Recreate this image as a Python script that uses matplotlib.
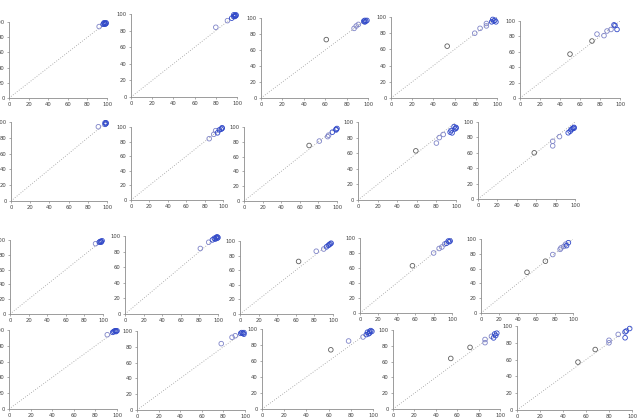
import matplotlib

matplotlib.use("Agg")
import matplotlib.pyplot as plt
import numpy as np

# one (x, y) list per panel, rows left to right
p01_x = [92, 96, 97, 98, 99, 98, 97, 99]
p01_y = [94, 97, 98, 98, 99, 97, 99, 98]
p02_x = [80, 91, 95, 97, 98, 99, 98, 97, 99]
p02_y = [84, 92, 95, 97, 98, 99, 97, 99, 98]
p03_x = [61, 87, 89, 91, 96, 97, 98, 99, 97]
p03_y = [73, 87, 90, 92, 96, 97, 96, 97, 95]
p04_x = [53, 79, 84, 90, 90, 95, 96, 97, 98, 99]
p04_y = [64, 80, 86, 89, 92, 94, 97, 95, 96, 94]
p05_x = [50, 72, 77, 84, 87, 91, 94, 95, 97]
p05_y = [57, 74, 83, 81, 87, 89, 95, 94, 89]
p06_x = [91, 98, 99, 99, 98]
p06_y = [94, 97, 98, 99, 99]
p07_x = [85, 90, 92, 94, 96, 98, 99, 99]
p07_y = [84, 90, 95, 92, 96, 97, 98, 99]
p08_x = [70, 81, 90, 91, 95, 99, 100, 99]
p08_y = [75, 81, 87, 89, 93, 97, 98, 96]
p09_x = [59, 80, 83, 87, 94, 95, 96, 99, 100, 98, 100]
p09_y = [63, 73, 80, 84, 87, 89, 86, 91, 93, 94, 92]
p10_x = [58, 77, 77, 84, 93, 95, 96, 97, 98, 99, 99]
p10_y = [60, 75, 69, 81, 86, 88, 90, 91, 92, 93, 92]
p11_x = [92, 96, 97, 98, 99, 98]
p11_y = [95, 97, 98, 98, 99, 97]
p12_x = [81, 90, 94, 96, 97, 98, 99, 99, 100]
p12_y = [84, 92, 95, 97, 96, 98, 99, 97, 98]
p13_x = [63, 82, 90, 93, 95, 96, 97, 98]
p13_y = [72, 86, 89, 92, 94, 95, 96, 97]
p14_x = [57, 80, 86, 89, 92, 94, 96, 97, 98]
p14_y = [63, 80, 86, 88, 92, 93, 96, 95, 96]
p15_x = [50, 70, 78, 86, 87, 90, 92, 93, 95]
p15_y = [55, 70, 79, 86, 88, 90, 93, 91, 95]
p16_x = [91, 96, 97, 98, 99, 99, 100]
p16_y = [94, 97, 98, 99, 99, 98, 99]
p17_x = [78, 88, 91, 96, 97, 98, 99, 99]
p17_y = [84, 92, 94, 97, 98, 97, 98, 96]
p18_x = [62, 78, 91, 94, 95, 96, 97, 98, 99, 97]
p18_y = [74, 85, 90, 93, 96, 94, 97, 98, 97, 95]
p19_x = [54, 72, 86, 86, 92, 94, 95, 96, 97]
p19_y = [64, 78, 84, 88, 92, 90, 95, 93, 96]
p20_x = [53, 68, 80, 80, 88, 94, 94, 95, 98]
p20_y = [57, 72, 80, 83, 90, 86, 93, 94, 97]

panels = [(p01_x, p01_y), (p02_x, p02_y), (p03_x, p03_y), (p04_x, p04_y), (p05_x, p05_y),
          (p06_x, p06_y), (p07_x, p07_y), (p08_x, p08_y), (p09_x, p09_y), (p10_x, p10_y),
          (p11_x, p11_y), (p12_x, p12_y), (p13_x, p13_y), (p14_x, p14_y), (p15_x, p15_y),
          (p16_x, p16_y), (p17_x, p17_y), (p18_x, p18_y), (p19_x, p19_y), (p20_x, p20_y)]
ticks = [0, 20, 40, 60, 80, 100]

# pixel boxes of each panel: x at 0, x at 100, y at 0, y at 100
boxes = [(9, 107, 98, 22), (131, 237, 97, 14), (261, 368, 98, 18), (391, 497, 98, 17),
         (520, 620, 98, 21), (11, 107, 201, 122), (131, 223, 200, 127), (244, 337, 201, 127),
         (358, 456, 200, 122), (478, 575, 199, 122), (10, 103, 314, 240), (125, 218, 314, 236),
         (240, 333, 314, 241), (360, 452, 313, 238), (481, 573, 313, 239), (9, 117, 409, 330),
         (137, 245, 410, 331), (262, 373, 409, 329), (393, 500, 409, 330), (517, 632, 410, 326)]

W, H = 640, 419
fig = plt.figure(figsize=(W / 100, H / 100), dpi=100)

for (xs, ys), (x0, x1, y0, y1) in zip(panels, boxes):
    ax = fig.add_axes([x0 / W, 1 - y0 / H, (x1 - x0) / W, (y0 - y1) / H])
    ax.plot([0, 100], [0, 100], ls=(0, (1, 2)), color="0.6", lw=0.6)
    xs, ys = np.array(xs), np.array(ys)
    cols = np.where(xs < 75, "#606060", np.where(xs < 93, "#7f84c8", "#3048c8"))
    ax.scatter(xs, ys, s=11, facecolors="none", edgecolors=cols, linewidths=0.6,
               clip_on=False, zorder=3)
    ax.set_xlim(0, 100)
    ax.set_ylim(0, 100)
    ax.set_xticks(ticks)
    ax.set_yticks(ticks)
    for side in ("top", "right"):
        ax.spines[side].set_visible(False)
    for side in ("left", "bottom"):
        ax.spines[side].set_color("0.55")
        ax.spines[side].set_linewidth(0.6)
    ax.tick_params(labelsize=3.8, length=1.5, width=0.5, pad=1.5,
                   color="0.55", labelcolor="0.25")
    ax.set_facecolor("none")

fig.savefig("out.png", dpi=100)
